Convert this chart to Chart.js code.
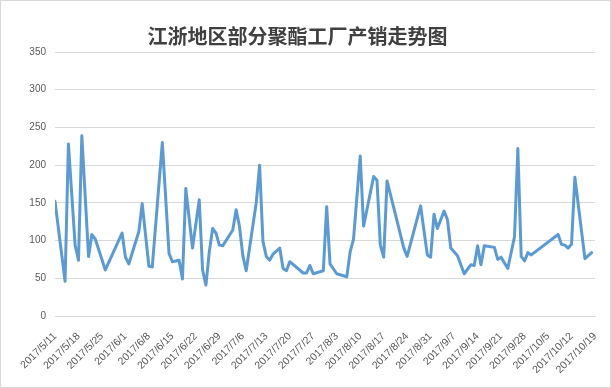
<!DOCTYPE html>
<html>
<head>
<meta charset="utf-8">
<script src="https://cdn.jsdelivr.net/npm/chart.js@4.4.1/dist/chart.umd.min.js"></script>
<style>
  body { margin: 0; background: #fff; }
</style>
</head>
<body>
<canvas id="chart" width="611" height="388"></canvas>
<script>
// 日期与产销数据
const dates = [
  '2017/5/11', '2017/5/14', '2017/5/15', '2017/5/17', '2017/5/18', '2017/5/19', '2017/5/21', '2017/5/22',
  '2017/5/23', '2017/5/26', '2017/5/31', '2017/6/1', '2017/6/2', '2017/6/5', '2017/6/6', '2017/6/8',
  '2017/6/9', '2017/6/12', '2017/6/14', '2017/6/15', '2017/6/17', '2017/6/18', '2017/6/19', '2017/6/21',
  '2017/6/23', '2017/6/24', '2017/6/25', '2017/6/26', '2017/6/27', '2017/6/28', '2017/6/29', '2017/6/30',
  '2017/7/3', '2017/7/4', '2017/7/5', '2017/7/6', '2017/7/7', '2017/7/10', '2017/7/11', '2017/7/12',
  '2017/7/13', '2017/7/14', '2017/7/15', '2017/7/17', '2017/7/18', '2017/7/19', '2017/7/20', '2017/7/24',
  '2017/7/25', '2017/7/26', '2017/7/27', '2017/7/30', '2017/7/31', '2017/8/1', '2017/8/3', '2017/8/6',
  '2017/8/7', '2017/8/8', '2017/8/10', '2017/8/11', '2017/8/14', '2017/8/15', '2017/8/16', '2017/8/17',
  '2017/8/18', '2017/8/23', '2017/8/24', '2017/8/28', '2017/8/30', '2017/8/31', '2017/9/1', '2017/9/2',
  '2017/9/4', '2017/9/5', '2017/9/6', '2017/9/8', '2017/9/10', '2017/9/12', '2017/9/13', '2017/9/14',
  '2017/9/15', '2017/9/16', '2017/9/19', '2017/9/20', '2017/9/21', '2017/9/23', '2017/9/25', '2017/9/26',
  '2017/9/27', '2017/9/28', '2017/9/29', '2017/9/30', '2017/10/8', '2017/10/9', '2017/10/10', '2017/10/11',
  '2017/10/12', '2017/10/13', '2017/10/16', '2017/10/18', '2017/10/19'
];
const sales = [
  152, 46, 228, 94, 74, 239, 79, 108,
  102, 61, 110, 78, 69, 112, 149, 66,
  65, 230, 83, 72, 74, 49, 169, 90,
  154, 61, 41, 85, 116, 110, 94, 93,
  114, 141, 119, 80, 60, 150, 200, 99,
  79, 74, 82, 90, 63, 60, 72, 57,
  57, 67, 56, 60, 145, 69, 56, 52,
  85, 102, 212, 119, 185, 180, 94, 78,
  179, 90, 79, 146, 81, 78, 135, 116,
  139, 128, 90, 80, 56, 68, 67, 93,
  68, 93, 91, 75, 78, 63, 105, 222,
  79, 73, 84, 81, 108, 95, 94, 90,
  95, 184, 76, 84
];
const yTicks = [0, 50, 100, 150, 200, 250, 300, 350];
const startDate = '2017/5/11';
const endDate = '2017/10/19';

// 日期转成相对天数，横轴按天排布
function toDay(s) {
  const [y, m, d] = s.split('/').map(Number);
  const [y0, m0, d0] = startDate.split('/').map(Number);
  return Math.round((Date.UTC(y, m - 1, d) - Date.UTC(y0, m0 - 1, d0)) / 86400000);
}
function dayLabel(n) {
  const [y0, m0, d0] = startDate.split('/').map(Number);
  const t = new Date(Date.UTC(y0, m0 - 1, d0) + n * 86400000);
  return t.getUTCFullYear() + '/' + (t.getUTCMonth() + 1) + '/' + t.getUTCDate();
}

const points = dates.map((d, i) => ({ x: toDay(d), y: sales[i] }));

// 背景和外框
const frame = {
  id: 'frame',
  beforeDraw(chart) {
    const ctx = chart.ctx;
    ctx.save();
    ctx.fillStyle = '#fff';
    ctx.fillRect(0, 0, chart.width, chart.height);
    ctx.restore();
  },
  afterDraw(chart) {
    const ctx = chart.ctx;
    ctx.save();
    ctx.strokeStyle = '#d9d9d9';
    ctx.lineWidth = 1;
    ctx.strokeRect(0.5, 0.5, chart.width - 1, chart.height - 1);
    ctx.restore();
  }
};

const tickFont = { family: "'Liberation Sans', Arial, sans-serif", size: 10 };

new Chart(document.getElementById('chart'), {
  type: 'line',
  data: {
    datasets: [{
      label: '产销',
      data: points,
      borderColor: '#5b9bd5',
      borderWidth: 3,
      pointRadius: 0,
      tension: 0,
      borderJoinStyle: 'round',
      borderCapStyle: 'round'
    }]
  },
  options: {
    responsive: false,
    animation: false,
    layout: { padding: { left: 0, right: 16, top: 0, bottom: 0 } },
    plugins: {
      legend: { display: false },
      tooltip: { enabled: false },
      title: {
        display: true,
        text: '江浙地区部分聚酯工厂产销走势图',
        color: '#404040',
        font: { family: "'Noto Sans CJK SC', sans-serif", size: 20, weight: 'bold' },
        padding: { top: 24, bottom: 4 }
      }
    },
    scales: {
      x: {
        type: 'linear',
        min: 0,
        max: toDay(endDate),
        afterBuildTicks(scale) {
          const t = [];
          for (let v = 0; v <= toDay(endDate); v += 7) t.push({ value: v });
          scale.ticks = t;
        },
        afterFit(scale) { scale.height = 72; },
        grid: { display: false },
        border: { display: true, color: '#d9d9d9' },
        ticks: {
          autoSkip: false,
          minRotation: 45,
          maxRotation: 45,
          padding: 6,
          color: '#595959',
          font: { family: "'Liberation Sans', Arial, sans-serif", size: 10.5 },
          callback: v => dayLabel(v)
        }
      },
      y: {
        min: 0,
        max: 350,
        afterBuildTicks(scale) { scale.ticks = yTicks.map(v => ({ value: v })); },
        afterFit(scale) { scale.width = 55; },
        grid: { color: '#d9d9d9', drawTicks: false },
        border: { display: false },
        ticks: { padding: 9, color: '#595959', font: tickFont }
      }
    }
  },
  plugins: [frame]
});
</script>
</body>
</html>
